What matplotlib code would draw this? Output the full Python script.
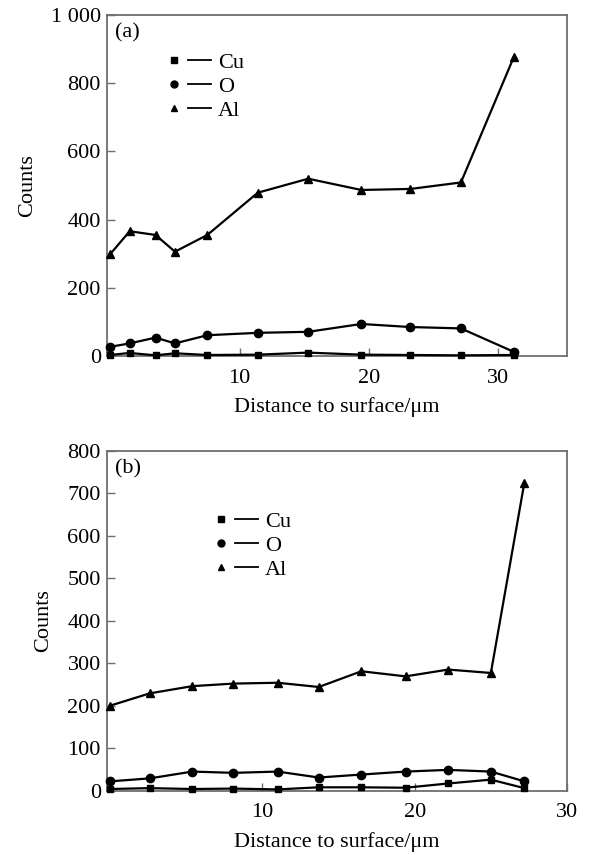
"""plot.py - EDS line-scan counts (Cu, O, Al) versus distance to surface, two panels."""
import matplotlib

matplotlib.use("Agg")
import matplotlib.pyplot as plt
from matplotlib.legend_handler import HandlerTuple
from matplotlib.lines import Line2D
from matplotlib.ticker import FuncFormatter

# panel (a)
dist_a = [0.0, 1.5, 3.5, 5.0, 7.5, 11.4, 15.3, 19.4, 23.2, 27.1, 31.2]
cu_a = [3, 9, 2, 8, 3, 4, 10, 4, 3, 2, 3]
o_a = [27, 37, 54, 37, 61, 68, 71, 94, 85, 81, 12]
al_a = [299, 366, 355, 306, 355, 479, 520, 487, 490, 509, 878]

# panel (b)
dist_b = [0.0, 2.6, 5.4, 8.1, 11.0, 13.7, 16.5, 19.4, 22.2, 25.0, 27.2]
cu_b = [4, 6, 4, 5, 3, 8, 8, 7, 17, 26, 6]
o_b = [22, 29, 45, 42, 45, 31, 38, 45, 49, 45, 22]
al_b = [200, 229, 246, 252, 254, 244, 281, 269, 285, 277, 725]

series_names = ["Cu", "O", "Al"]
x_ticks = [10, 20, 30]
y_ticks_a = [0, 200, 400, 600, 800, 1000]
y_ticks_b = [0, 100, 200, 300, 400, 500, 600, 700, 800]

plt.rcParams["font.family"] = ["Liberation Serif", "DejaVu Serif"]

MARKERS = ["s", "o", "^"]
MSIZES = [5, 6, 6]
SPINE = "#6e6e6e"
FS = 16


def thousands(v, _pos):
    # "1 000" style digit grouping, as in the original
    return f"{int(v):,}".replace(",", " ")


def panel(ax, dist, series, yticks, ylim, xlim, tag, leg_anchor):
    for vals, m, ms in zip(series, MARKERS, MSIZES):
        ax.plot(dist, vals, color="black", lw=1.6, marker=m, ms=ms,
                clip_on=False, zorder=3)
    ax.set_xlim(*xlim)
    ax.set_ylim(*ylim)
    ax.set_xticks(x_ticks)
    ax.set_yticks(yticks)
    ax.yaxis.set_major_formatter(FuncFormatter(thousands))
    ax.tick_params(direction="in", length=6, width=1.0, color=SPINE,
                   labelsize=FS)
    ax.tick_params(axis="x", pad=9)
    ax.tick_params(axis="y", pad=4.5)
    for sp in ax.spines.values():
        sp.set_color(SPINE)
        sp.set_linewidth(1.3)
    ax.set_xlabel("Distance to surface/\u03bcm", fontsize=FS, labelpad=7)
    ax.set_ylabel("Counts", fontsize=FS, labelpad=10)
    ax.text(0.018, 0.975, tag, transform=ax.transAxes, fontsize=FS,
            ha="left", va="top")

    # legend entries drawn as "marker — label"
    handles = []
    for m, ms in zip(MARKERS, MSIZES):
        mk = Line2D([], [], ls="none", marker=m, ms=ms - 1, color="black")
        ln = Line2D([], [], color="black", lw=1.3)
        handles.append((mk, ln))
    ax.legend(handles, series_names, loc="upper left", bbox_to_anchor=leg_anchor,
              handler_map={tuple: HandlerTuple(ndivide=None, pad=0.1)},
              frameon=False, fontsize=FS, handlelength=2.2, handletextpad=0.3,
              labelspacing=0.15, borderaxespad=0, borderpad=0)


fig = plt.figure(figsize=(5.89, 8.55), dpi=100)
ax_a = fig.add_axes([0.1817, 0.5836, 0.781, 0.3988])
ax_b = fig.add_axes([0.1817, 0.0752, 0.781, 0.3977])

panel(ax_a, dist_a, [cu_a, o_a, al_a], y_ticks_a, (0, 1000), (-0.25, 35.3),
      "(a)", (0.12, 0.89))
panel(ax_b, dist_b, [cu_b, o_b, al_b], y_ticks_b, (0, 800), (-0.2, 30),
      "(b)", (0.222, 0.822))

fig.savefig("out.png", dpi=100)
plt.close(fig)
